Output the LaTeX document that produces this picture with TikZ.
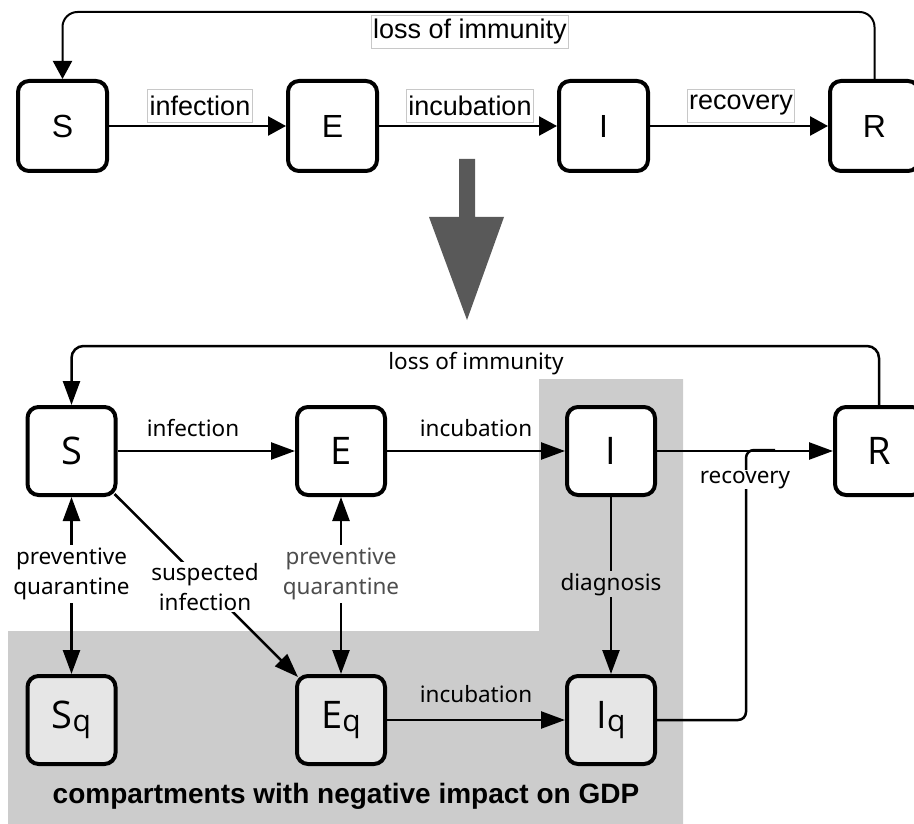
\documentclass[tikz,border=0pt]{standalone}
\usepackage{fontspec}
\setmainfont{Liberation Sans}
\newfontfamily\nsans{Noto Sans}
\newfontfamily\osans{Open Sans}
\usetikzlibrary{arrows.meta}
\definecolor{regiongray}{HTML}{CCCCCC}
\definecolor{qfill}{HTML}{E6E6E6}
\definecolor{bigarrow}{HTML}{595959}
\definecolor{lblborder}{HTML}{C8C8C8}
\definecolor{lblgray}{HTML}{4D4D4D}
\begin{document}
\begin{tikzpicture}[x=1pt,y=-1pt,
  topbox/.style={draw, line width=4pt, rounded corners=11pt, minimum width=89pt, minimum height=90pt,
    fill=white, inner sep=0pt, font=\fontsize{32}{32}\selectfont},
  botbox/.style={draw, line width=4pt, rounded corners=11pt, minimum width=88pt, minimum height=88pt,
    fill=white, inner sep=0pt, font=\osans\fontsize{38}{38}\selectfont},
  qbox/.style={botbox, fill=qfill},
  toparr/.style={line width=2.5pt, -{Triangle[length=18pt,width=19pt]}},
  botarr/.style={line width=2.5pt, -{Triangle[length=24pt,width=17pt]}},
  dblarr/.style={line width=2.5pt, {Triangle[length=24pt,width=17pt]}-{Triangle[length=24pt,width=17pt]}},
  plainline/.style={line width=2.5pt},
  toplbl/.style={draw=lblborder, line width=0.6pt, fill=white, inner xsep=2pt, inner ysep=0pt,
    minimum height=33pt, font=\fontsize{27}{27}\selectfont},
  botlbl/.style={inner sep=3pt, align=center, font=\nsans\fontsize{22.5}{30}\selectfont},
  captionlbl/.style={inner sep=0pt, font=\bfseries\fontsize{28}{28}\selectfont}
]
\useasboundingbox (0,0) rectangle (914,824);
% ---------------- top SEIR ----------------
\node[topbox] (S1) at (62.5,126) {S};
\node[topbox] (E1) at (332.5,126) {E};
\node[topbox] (I1) at (603.5,126) {I};
\node[topbox] (R1) at (874.5,126) {R};
\coordinate (tl1) at (874.5,12);
\coordinate (tl2) at (62.5,12);
\draw[toparr, line width=2pt, rounded corners=15pt] (R1.north) -- (tl1) -- (tl2) -- (S1.north);
\draw[toparr] (S1) -- (E1);
\draw[toparr] (E1) -- (I1);
\draw[toparr] (I1) -- (R1);
\node[toplbl] (tLoss) at (470,32) {loss of immunity};
\node[toplbl] (tInf) at (200,105.5) {infection};
\node[toplbl] (tInc) at (470,105.5) {incubation};
\node[toplbl] (tRec) at (741,105.5) {recovery};
% ---------------- big arrow ----------------
\fill[bigarrow] (459,159) -- (475,159) -- (475,217) -- (504,217) -- (467,320) -- (429,217) -- (459,217) -- cycle;
% ---------------- bottom model ----------------
\fill[regiongray] (8,631) -- (539,631) -- (539,379) -- (683,379) -- (683,824) -- (8,824) -- cycle;
\node[botbox] (S2) at (71.5,451) {S};
\node[botbox] (E2) at (341,451) {E};
\node[botbox] (I2) at (611,451) {I};
\node[botbox] (R2) at (879,451) {R};
\node[qbox] (Sq) at (71.5,720) {S\raisebox{-3.5pt}{\fontsize{30}{30}\selectfont q}};
\node[qbox] (Eq) at (341,720) {E\raisebox{-3.5pt}{\fontsize{30}{30}\selectfont q}};
\node[qbox] (Iq) at (611,720) {I\raisebox{-3.5pt}{\fontsize{30}{30}\selectfont q}};
\coordinate (bl1) at (879,346);
\coordinate (bl2) at (71.5,346);
\draw[botarr, rounded corners=12pt] (R2.north) -- (bl1) -- (bl2) -- (S2.north);
\draw[botarr] (S2) -- (E2);
\draw[botarr] (E2) -- (I2);
\draw[botarr] (I2) -- (R2);
\draw[botarr] (Eq) -- (Iq);
\draw[dblarr] (S2) -- (Sq);
\draw[dblarr] (E2) -- (Eq);
\draw[botarr] (I2) -- (Iq);
\draw[botarr] ([shift={(-3pt,3pt)}]S2.south east) -- ([shift={(3pt,-3pt)}]Eq.north west);
\coordinate (rc1) at (746,720);
\coordinate (rc2) at (746,450);
\coordinate (rc3) at (775,450);
\draw[plainline, rounded corners=8pt] (Iq.east) -- (rc1) -- (rc2) -- (rc3);
% labels
\node[botlbl, inner sep=0pt] (bLoss) at (476,364) {loss of immunity};
\node[botlbl, anchor=base, inner sep=0pt] (bInf) at (193,436) {infection};
\node[botlbl, anchor=base, inner sep=0pt] (bInc) at (476,436) {incubation};
\node[botlbl, anchor=base, fill=white, inner sep=1pt] (bRec) at (745,483) {recovery};
\node[botlbl, fill=white] (bPQ1) at (71.5,574) {preventive\\quarantine};
\node[botlbl, fill=white, text=lblgray] (bPQ2) at (341,574) {preventive\\quarantine};
\node[botlbl, fill=white, inner sep=1pt] (bSus) at (205,587) {suspected\\infection};
\node[botlbl, fill=regiongray, anchor=base, inner sep=2pt] (bDia) at (611,590) {diagnosis};
\node[botlbl, anchor=base, inner sep=0pt] (bInc2) at (476,702) {incubation};
\node[captionlbl, anchor=base] (cap) at (346,803) {compartments with negative impact on GDP};
\end{tikzpicture}
\end{document}
